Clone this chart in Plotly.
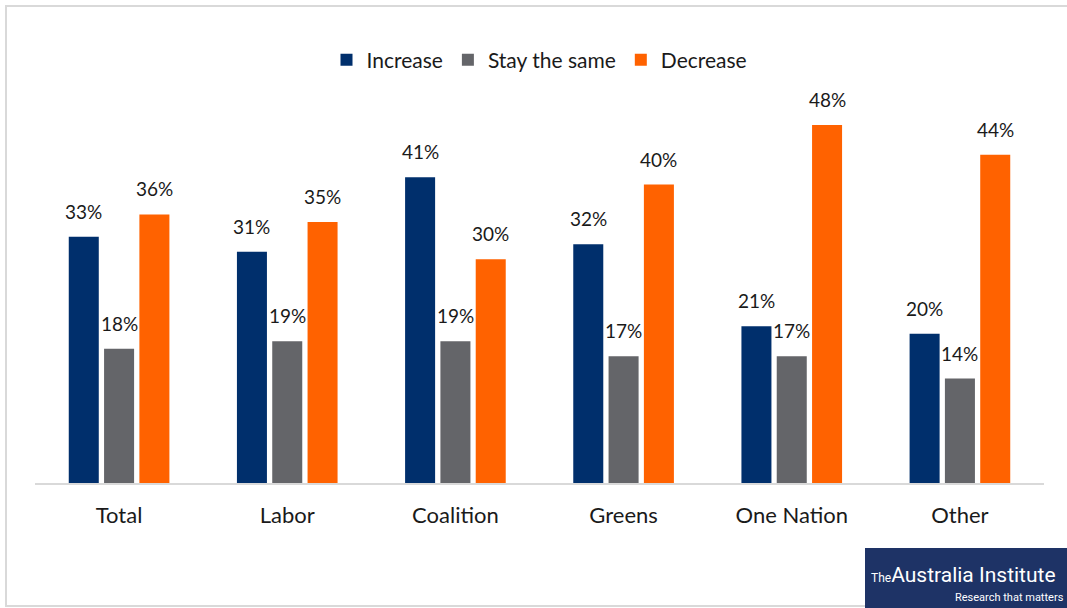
import plotly.graph_objects as go

categories = ["Total", "Labor", "Coalition", "Greens", "One Nation", "Other"]
increase = [33, 31, 41, 32, 21, 20]
stay_same = [18, 19, 19, 17, 17, 14]
decrease = [36, 35, 30, 40, 48, 44]

series = [
    ("Increase", increase, "#002F6C"),
    ("Stay the same", stay_same, "#646569"),
    ("Decrease", decrease, "#FF6200"),
]

FONT = "Lato"

fig = go.Figure()
for name, vals, color in series:
    fig.add_trace(go.Bar(
        name=name, x=categories, y=vals,
        marker=dict(color=color, line=dict(width=0)),
    ))

W, H = 1067, 608
ml, mr, mt, mb = 35, 23, 110, 125
pw = W - ml - mr
ph = H - mt - mb
BARGAP = 0.37

def px(x):
    return (x - ml) / pw

def py(y):
    return (H - mb - y) / ph

# data labels placed above each bar through the axis scales
slot = (1 - BARGAP) / 3
annotations = []
for k, (name, vals, color) in enumerate(series):
    for i, v in enumerate(vals):
        annotations.append(dict(
            x=i + (k - 1) * slot, y=v, xref="x", yref="y",
            text=f"{v}%", showarrow=False, yanchor="bottom", yshift=12,
            font=dict(size=19, color="#1a1a1a", family=FONT),
        ))

annotations += [
    dict(xref="paper", yref="paper", x=px(1058), y=py(575), xanchor="right", yanchor="middle",
         text="<span style='font-size:12px'>The</span>Australia Institute", showarrow=False,
         font=dict(size=21, color="white", family="Roboto")),
    dict(xref="paper", yref="paper", x=px(1066), y=py(597), xanchor="right", yanchor="middle",
         text="Research that matters", showarrow=False,
         font=dict(size=11, color="white", family="Roboto")),
]

fig.update_layout(
    width=W, height=H,
    margin=dict(l=ml, r=mr, t=mt, b=mb),
    paper_bgcolor="white", plot_bgcolor="white",
    barmode="group", bargap=BARGAP, bargroupgap=0.15,
    font=dict(family=FONT, color="#1a1a1a"),
    legend=dict(orientation="h", x=0.5, xanchor="center", y=py(60), yanchor="middle",
                font=dict(size=21, family=FONT), itemwidth=30, traceorder="normal"),
    xaxis=dict(showline=True, linecolor="#d9d9d9", linewidth=2, ticks="",
               tickfont=dict(size=22, family=FONT, color="#1a1a1a"), showgrid=False,
               ticklabelstandoff=12),
    yaxis=dict(range=[0, 50], visible=False, showgrid=False),
    shapes=[
        dict(type="rect", xref="paper", yref="paper", x0=px(6), x1=px(1075), y0=py(606), y1=py(6),
             line=dict(color="#d9d9d9", width=2), fillcolor="rgba(0,0,0,0)", layer="below"),
        dict(type="rect", xref="paper", yref="paper", x0=px(865), x1=px(1070), y0=py(608), y1=py(548),
             line=dict(width=0), fillcolor="#1E3366"),
    ],
    annotations=annotations,
)

fig.write_html("out.html")
